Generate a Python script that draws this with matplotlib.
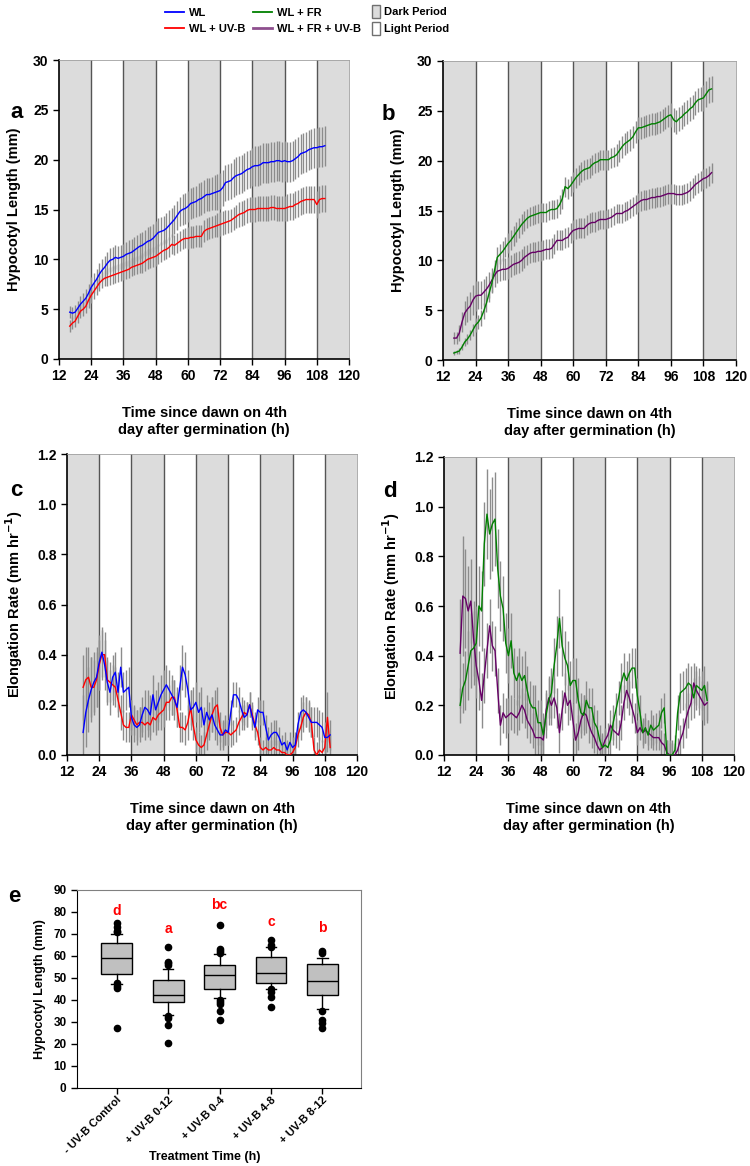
import numpy as np
import matplotlib
matplotlib.use('Agg')
import matplotlib.pyplot as plt
from matplotlib import font_manager
from matplotlib.lines import Line2D
from matplotlib.patches import Patch

plt.rcParams['font.family'] = ['Liberation Sans', 'DejaVu Sans']
plt.rcParams['font.weight'] = 'bold'
plt.rcParams['axes.labelweight'] = 'bold'

# narrow face for the squeezed legend text, if the system has one
try:
    font_manager.findfont('Liberation Sans Narrow', fallback_to_default=False)
    legend_family = ['Liberation Sans Narrow', 'DejaVu Sans']
    legend_size = 10
except Exception:
    legend_family = ['Liberation Sans', 'DejaVu Sans']
    legend_size = 8

# ---------------- data ----------------
# length time points (h) and rate time points (h)
t_len = np.arange(16, 112)
t_rate = np.arange(18, 111)
dark_periods = [12, 36, 60, 84, 108]
x_ticks = [12, 24, 36, 48, 60, 72, 84, 96, 108, 120]

# panel a: hypocotyl length (mm)
wl_len = [4.7, 4.6, 4.7, 5.1, 5.5, 5.8, 6.1, 6.6,
          7.2, 7.6, 8.0, 8.5, 8.9, 9.2, 9.6, 9.9, 10.0, 10.2, 10.1, 10.2,
          10.3, 10.5, 10.6, 10.7, 10.9, 11.1, 11.3, 11.4, 11.6, 11.8, 11.9, 12.1,
          12.4, 12.7, 12.8, 12.9, 13.1, 13.4, 13.7, 14.0, 14.4, 14.8, 15.0, 15.1,
          15.3, 15.6, 15.7, 15.8, 16.0, 16.1, 16.3, 16.5, 16.5, 16.6, 16.7, 16.8,
          16.9, 17.2, 17.7, 17.8, 17.9, 18.2, 18.4, 18.5, 18.6, 18.8, 19.0, 19.1,
          19.3, 19.4, 19.4, 19.5, 19.7, 19.7, 19.7, 19.8, 19.8, 19.9, 19.9, 19.8,
          19.9, 19.8, 19.8, 19.9, 20.1, 20.3, 20.6, 20.7, 20.8, 21.0, 21.1, 21.2,
          21.2, 21.3, 21.3, 21.4]
wl_len_se = [0.6, 0.6, 0.7, 0.7, 0.8, 0.8, 0.9, 0.9,
             1.0, 1.0, 1.0, 1.1, 1.1, 1.1, 1.1, 1.2, 1.2, 1.2, 1.2, 1.2,
             1.2, 1.2, 1.3, 1.3, 1.3, 1.3, 1.3, 1.3, 1.3, 1.4, 1.4, 1.4,
             1.4, 1.4, 1.4, 1.4, 1.5, 1.5, 1.5, 1.5, 1.5, 1.5, 1.6, 1.6,
             1.6, 1.6, 1.6, 1.6, 1.7, 1.7, 1.7, 1.7, 1.7, 1.7, 1.8, 1.8,
             1.8, 1.8, 1.8, 1.8, 1.8, 1.9, 1.9, 1.9, 1.9, 1.9, 1.9, 1.9,
             1.9, 2.0, 2.0, 2.0, 2.0, 2.0, 2.0, 2.0, 2.0, 2.0, 2.0, 2.0,
             2.0, 2.0, 2.0, 2.0, 2.0, 2.0, 2.0, 2.0, 2.0, 2.0, 2.0, 2.0,
             2.0, 2.0, 2.0, 2.0]
uvb_len = [3.3, 3.6, 3.8, 4.3, 4.8, 5.0, 5.3, 5.9,
           6.4, 6.8, 7.2, 7.6, 7.9, 8.1, 8.2, 8.3, 8.4, 8.5, 8.6, 8.7,
           8.8, 8.9, 9.0, 9.2, 9.3, 9.4, 9.5, 9.6, 9.8, 10.0, 10.1, 10.2,
           10.3, 10.5, 10.7, 10.9, 11.0, 11.2, 11.5, 11.4, 11.6, 11.8, 12.0, 12.1,
           12.1, 12.2, 12.2, 12.3, 12.3, 12.3, 12.8, 13.0, 13.1, 13.2, 13.3, 13.4,
           13.5, 13.6, 13.7, 13.8, 13.9, 14.1, 14.3, 14.5, 14.6, 14.7, 14.9, 15.0,
           15.0, 15.0, 15.1, 15.1, 15.1, 15.1, 15.1, 15.2, 15.2, 15.1, 15.1, 15.1,
           15.1, 15.2, 15.3, 15.3, 15.5, 15.6, 15.8, 15.9, 16.0, 16.0, 16.0, 16.0,
           15.5, 16.0, 16.1, 16.1]
uvb_len_se = [0.6, 0.6, 0.6, 0.7, 0.7, 0.7, 0.7, 0.8,
              0.8, 0.8, 0.8, 0.8, 0.8, 0.8, 0.9, 0.9, 0.9, 0.9, 0.9, 0.9,
              0.9, 0.9, 0.9, 0.9, 0.9, 0.9, 0.9, 1.0, 1.0, 1.0, 1.0, 1.0,
              1.0, 1.0, 1.0, 1.0, 1.0, 1.0, 1.0, 1.0, 1.0, 1.0, 1.0, 1.0,
              1.1, 1.1, 1.1, 1.1, 1.1, 1.1, 1.1, 1.1, 1.1, 1.1, 1.1, 1.2,
              1.2, 1.2, 1.2, 1.2, 1.2, 1.2, 1.2, 1.3, 1.3, 1.3, 1.3, 1.3,
              1.3, 1.3, 1.3, 1.3, 1.3, 1.3, 1.3, 1.3, 1.3, 1.3, 1.3, 1.3,
              1.3, 1.4, 1.4, 1.4, 1.4, 1.4, 1.4, 1.4, 1.4, 1.4, 1.4, 1.4,
              1.4, 1.4, 1.4, 1.4]

# panel b: hypocotyl length (mm)
fr_len = [0.7, 0.8, 0.9, 1.3, 1.8, 2.1, 2.5, 3.0,
          3.5, 3.8, 4.2, 4.9, 5.7, 6.7, 7.7, 9.0, 10.3, 10.6, 10.9, 11.3,
          11.7, 12.0, 12.4, 12.8, 13.2, 13.6, 13.9, 14.2, 14.4, 14.5, 14.6, 14.7,
          14.8, 14.8, 14.8, 15.0, 15.1, 15.1, 15.2, 15.6, 16.2, 17.4, 17.2, 17.5,
          17.9, 18.3, 18.6, 18.9, 19.1, 19.2, 19.3, 19.6, 19.8, 19.9, 20.1, 20.1,
          20.1, 20.1, 20.3, 20.4, 20.6, 21.0, 21.4, 21.7, 21.9, 22.1, 22.4, 22.9,
          23.3, 23.3, 23.4, 23.5, 23.6, 23.7, 23.7, 23.8, 23.9, 24.1, 24.3, 24.5,
          24.6, 24.1, 23.9, 24.2, 24.4, 24.7, 24.9, 25.2, 25.4, 25.8, 26.1, 26.2,
          26.3, 26.7, 27.1, 27.2]
fr_len_se = [0.2, 0.2, 0.3, 0.3, 0.4, 0.5, 0.5, 0.6,
             0.7, 0.7, 0.8, 0.8, 0.9, 0.9, 1.0, 1.0, 1.0, 1.0, 1.0, 1.0,
             1.0, 1.0, 1.0, 1.0, 1.0, 1.0, 1.0, 1.0, 1.0, 1.0, 1.0, 1.0,
             1.0, 1.0, 1.0, 1.0, 1.0, 1.0, 1.0, 1.0, 1.0, 1.0, 1.0, 1.0,
             1.0, 1.0, 1.0, 1.0, 1.0, 1.0, 1.0, 1.0, 1.0, 1.0, 1.0, 1.0,
             1.0, 1.0, 1.0, 1.0, 1.1, 1.1, 1.1, 1.1, 1.1, 1.1, 1.1, 1.1,
             1.1, 1.1, 1.1, 1.1, 1.1, 1.1, 1.1, 1.1, 1.1, 1.1, 1.1, 1.1,
             1.2, 1.2, 1.2, 1.2, 1.2, 1.2, 1.2, 1.2, 1.2, 1.2, 1.2, 1.2,
             1.3, 1.3, 1.3, 1.3]
fruvb_len = [2.2, 2.2, 2.7, 3.8, 4.7, 5.1, 5.4, 6.0,
             6.4, 6.5, 6.5, 6.8, 7.1, 7.5, 8.0, 8.5, 8.9, 9.0, 9.1, 9.1,
             9.2, 9.4, 9.6, 9.7, 9.8, 10.0, 10.3, 10.5, 10.7, 10.8, 10.8, 10.9,
             10.9, 11.0, 11.1, 11.1, 11.2, 11.6, 12.0, 12.0, 12.0, 12.2, 12.3, 12.7,
             13.0, 13.1, 13.2, 13.2, 13.2, 13.5, 13.7, 13.8, 13.8, 14.0, 14.1, 14.1,
             14.1, 14.2, 14.3, 14.5, 14.7, 14.7, 14.7, 14.9, 15.0, 15.2, 15.4, 15.6,
             15.8, 16.0, 16.1, 16.1, 16.2, 16.3, 16.3, 16.4, 16.4, 16.5, 16.6, 16.7,
             16.7, 16.7, 16.6, 16.6, 16.6, 16.7, 16.8, 17.0, 17.3, 17.6, 17.8, 18.0,
             18.2, 18.3, 18.5, 18.8]
fruvb_len_se = [0.6, 0.6, 0.8, 1.0, 1.2, 1.3, 1.4, 1.5,
                1.5, 1.4, 1.4, 1.3, 1.3, 1.3, 1.2, 1.2, 1.2, 1.1, 1.1, 1.1,
                1.1, 1.1, 1.1, 1.1, 1.1, 1.1, 1.1, 1.0, 1.0, 1.0, 1.0, 1.0,
                1.0, 1.0, 1.0, 1.0, 1.0, 1.0, 1.0, 1.0, 1.0, 1.0, 1.0, 1.0,
                1.0, 1.0, 1.0, 1.0, 1.0, 1.0, 1.0, 1.0, 1.0, 1.0, 1.0, 1.0,
                1.0, 1.0, 1.0, 1.0, 1.0, 1.0, 1.0, 1.0, 1.0, 1.0, 1.0, 1.0,
                1.0, 1.0, 1.0, 1.0, 1.0, 1.0, 1.0, 1.0, 1.0, 1.0, 1.0, 1.0,
                1.0, 1.0, 1.0, 1.0, 1.0, 1.0, 1.0, 1.0, 1.0, 1.0, 1.0, 1.0,
                1.0, 1.0, 1.0, 1.0]

# panel c: elongation rate (mm/h)
wl_rate = [0.09, 0.17, 0.22, 0.26, 0.29, 0.31,
           0.37, 0.41, 0.36, 0.29, 0.25, 0.31, 0.33, 0.25, 0.35, 0.25, 0.26, 0.27,
           0.15, 0.12, 0.11, 0.12, 0.16, 0.19, 0.18, 0.16, 0.24, 0.18, 0.21, 0.24,
           0.26, 0.28, 0.26, 0.24, 0.22, 0.19, 0.27, 0.35, 0.32, 0.26, 0.18, 0.19,
           0.21, 0.17, 0.19, 0.12, 0.17, 0.14, 0.16, 0.12, 0.10, 0.08, 0.08, 0.10,
           0.09, 0.17, 0.24, 0.24, 0.22, 0.18, 0.15, 0.16, 0.20, 0.15, 0.11, 0.18,
           0.17, 0.17, 0.11, 0.06, 0.08, 0.09, 0.09, 0.07, 0.04, 0.05, 0.02, 0.05,
           0.03, 0.04, 0.12, 0.17, 0.18, 0.17, 0.15, 0.13, 0.13, 0.13, 0.12, 0.11,
           0.07, 0.07, 0.08]
wl_rate_se = [0.15, 0.14, 0.13, 0.13, 0.12, 0.12,
              0.11, 0.10, 0.10, 0.09, 0.09, 0.09, 0.08, 0.08, 0.08, 0.08, 0.08, 0.08,
              0.07, 0.07, 0.07, 0.07, 0.07, 0.07, 0.08, 0.08, 0.08, 0.08, 0.08, 0.08,
              0.08, 0.08, 0.08, 0.08, 0.08, 0.08, 0.09, 0.09, 0.09, 0.08, 0.08, 0.08,
              0.08, 0.08, 0.08, 0.07, 0.07, 0.07, 0.07, 0.06, 0.06, 0.06, 0.06, 0.06,
              0.05, 0.05, 0.05, 0.05, 0.05, 0.05, 0.05, 0.05, 0.05, 0.05, 0.05, 0.05,
              0.05, 0.05, 0.05, 0.05, 0.05, 0.05, 0.05, 0.04, 0.04, 0.04, 0.04, 0.04,
              0.04, 0.05, 0.05, 0.06, 0.06, 0.06, 0.06, 0.06, 0.06, 0.06, 0.06, 0.06,
              0.06, 0.06, 0.06]
uvb_rate = [0.27, 0.30, 0.31, 0.27, 0.27, 0.30,
            0.36, 0.40, 0.40, 0.30, 0.29, 0.28, 0.27, 0.22, 0.17, 0.12, 0.11, 0.11,
            0.16, 0.14, 0.12, 0.13, 0.13, 0.12, 0.13, 0.12, 0.15, 0.14, 0.16, 0.17,
            0.18, 0.21, 0.21, 0.23, 0.23, 0.18, 0.11, 0.11, 0.10, 0.13, 0.19, 0.12,
            0.06, 0.04, 0.03, 0.04, 0.08, 0.12, 0.16, 0.19, 0.20, 0.11, 0.08, 0.09,
            0.09, 0.08, 0.09, 0.10, 0.13, 0.15, 0.17, 0.16, 0.20, 0.16, 0.12, 0.09,
            0.03, 0.02, 0.03, 0.02, 0.02, 0.03, 0.02, 0.02, 0.01, 0.01, 0.00, 0.00,
            0.01, 0.03, 0.08, 0.11, 0.15, 0.17, 0.16, 0.13, 0.02, 0.00, 0.02, 0.01,
            0.03, 0.15, 0.03]
uvb_rate_se = [0.13, 0.13, 0.12, 0.12, 0.11, 0.11,
               0.10, 0.10, 0.09, 0.09, 0.08, 0.08, 0.08, 0.07, 0.07, 0.06, 0.06, 0.06,
               0.06, 0.06, 0.06, 0.06, 0.06, 0.06, 0.06, 0.06, 0.06, 0.06, 0.06, 0.07,
               0.07, 0.07, 0.07, 0.07, 0.07, 0.07, 0.06, 0.06, 0.06, 0.07, 0.07, 0.06,
               0.05, 0.05, 0.05, 0.05, 0.06, 0.06, 0.07, 0.07, 0.07, 0.06, 0.05, 0.05,
               0.05, 0.05, 0.05, 0.05, 0.05, 0.05, 0.05, 0.05, 0.05, 0.05, 0.05, 0.05,
               0.04, 0.04, 0.04, 0.04, 0.04, 0.04, 0.04, 0.04, 0.04, 0.04, 0.04, 0.04,
               0.04, 0.04, 0.05, 0.05, 0.06, 0.06, 0.06, 0.06, 0.05, 0.05, 0.05, 0.05,
               0.05, 0.10, 0.05]

# panel d: elongation rate (mm/h)
fr_rate = [0.20, 0.27, 0.30, 0.36, 0.42, 0.43,
           0.45, 0.60, 0.58, 0.85, 0.97, 0.89, 0.93, 0.95, 0.75, 0.64, 0.59, 0.45,
           0.40, 0.46, 0.33, 0.30, 0.33, 0.30, 0.32, 0.26, 0.21, 0.19, 0.19, 0.13,
           0.13, 0.08, 0.16, 0.22, 0.25, 0.36, 0.44, 0.55, 0.44, 0.39, 0.36, 0.28,
           0.30, 0.30, 0.22, 0.17, 0.16, 0.22, 0.19, 0.19, 0.13, 0.11, 0.06, 0.03,
           0.04, 0.03, 0.06, 0.13, 0.18, 0.23, 0.29, 0.33, 0.30, 0.33, 0.35, 0.35,
           0.24, 0.17, 0.09, 0.11, 0.08, 0.12, 0.10, 0.11, 0.12, 0.17, 0.19, 0.00,
           0.00, 0.00, 0.02, 0.17, 0.25, 0.26, 0.27, 0.29, 0.28, 0.23, 0.28, 0.27,
           0.26, 0.28, 0.22]
fr_rate_se = [0.07, 0.10, 0.12, 0.14, 0.15, 0.15,
              0.15, 0.16, 0.16, 0.17, 0.18, 0.18, 0.19, 0.19, 0.16, 0.14, 0.13, 0.12,
              0.11, 0.11, 0.10, 0.10, 0.10, 0.10, 0.10, 0.10, 0.09, 0.09, 0.09, 0.09,
              0.09, 0.09, 0.09, 0.10, 0.10, 0.11, 0.12, 0.12, 0.12, 0.11, 0.10, 0.10,
              0.09, 0.09, 0.09, 0.08, 0.08, 0.08, 0.08, 0.08, 0.07, 0.07, 0.06, 0.06,
              0.06, 0.06, 0.06, 0.07, 0.07, 0.07, 0.08, 0.08, 0.08, 0.08, 0.08, 0.08,
              0.07, 0.07, 0.06, 0.06, 0.06, 0.06, 0.06, 0.06, 0.06, 0.06, 0.06, 0.06,
              0.06, 0.06, 0.06, 0.07, 0.08, 0.08, 0.08, 0.08, 0.08, 0.08, 0.08, 0.08,
              0.08, 0.08, 0.08]
fruvb_rate = [0.41, 0.64, 0.63, 0.58, 0.62, 0.47,
              0.36, 0.30, 0.22, 0.32, 0.42, 0.52, 0.44, 0.42, 0.26, 0.12, 0.17, 0.15,
              0.16, 0.17, 0.16, 0.15, 0.17, 0.20, 0.18, 0.14, 0.12, 0.10, 0.07, 0.07,
              0.07, 0.06, 0.18, 0.23, 0.20, 0.23, 0.19, 0.09, 0.18, 0.25, 0.20, 0.22,
              0.14, 0.06, 0.09, 0.14, 0.17, 0.16, 0.12, 0.09, 0.07, 0.04, 0.02, 0.03,
              0.06, 0.08, 0.12, 0.10, 0.09, 0.08, 0.13, 0.21, 0.26, 0.23, 0.19, 0.15,
              0.09, 0.11, 0.09, 0.10, 0.09, 0.08, 0.07, 0.07, 0.07, 0.05, 0.04, 0.01,
              0.00, 0.00, 0.00, 0.02, 0.06, 0.09, 0.14, 0.18, 0.21, 0.29, 0.26, 0.24,
              0.22, 0.20, 0.21]
fruvb_rate_se = [0.22, 0.24, 0.20, 0.18, 0.17, 0.15,
                 0.13, 0.12, 0.11, 0.11, 0.11, 0.11, 0.10, 0.10, 0.09, 0.08, 0.08, 0.08,
                 0.07, 0.07, 0.07, 0.07, 0.07, 0.07, 0.07, 0.07, 0.07, 0.07, 0.07, 0.07,
                 0.07, 0.07, 0.08, 0.08, 0.08, 0.08, 0.08, 0.08, 0.08, 0.08, 0.08, 0.08,
                 0.07, 0.07, 0.07, 0.07, 0.07, 0.07, 0.07, 0.06, 0.06, 0.06, 0.05, 0.05,
                 0.05, 0.05, 0.06, 0.06, 0.06, 0.06, 0.07, 0.07, 0.07, 0.07, 0.06, 0.06,
                 0.05, 0.05, 0.05, 0.05, 0.05, 0.05, 0.05, 0.05, 0.05, 0.05, 0.05, 0.05,
                 0.05, 0.05, 0.05, 0.05, 0.06, 0.06, 0.07, 0.07, 0.07, 0.08, 0.08, 0.08,
                 0.08, 0.08, 0.08]

# panel e: box plot summary (mm)
treatments = ['- UV-B Control', '+ UV-B 0-12', '+ UV-B 0-4', '+ UV-B 4-8', '+ UV-B 8-12']
box_q1 = [51.8, 38.9, 44.8, 47.8, 42.5]
box_med = [59.3, 42.5, 51.3, 52.5, 48.6]
box_q3 = [65.7, 49.3, 56.0, 59.6, 56.3]
whisker_lo = [47.5, 33.4, 41.1, 44.8, 35.7]
whisker_hi = [70.2, 54.0, 61.0, 63.9, 59.3]
outliers = [[74.8, 73.3, 71.5, 70.7, 47.8, 46.3, 45.4, 27.4],
            [64.0, 57.4, 56.6, 55.8, 32.6, 31.6, 28.8, 20.6],
            [74.2, 63.4, 62.4, 61.2, 40.2, 39.2, 38.1, 35.1, 31.0],
            [67.2, 65.0, 64.2, 45.2, 43.7, 41.4, 36.6],
            [62.4, 61.5, 34.9, 30.8, 29.6, 27.3]]
sig_letters = ['d', 'a', 'bc', 'c', 'b']
letter_y = [80.6, 72.2, 83.2, 75.4, 72.8]

# ---------------- plotting ----------------
W, H = 750, 1166
fig = plt.figure(figsize=(W / 100, H / 100), dpi=100)


def rect(l, t, r, b):
    return [l / W, 1 - b / H, (r - l) / W, (b - t) / H]


BAR = '#8c8c8c'
XLAB = 'Time since dawn on 4th\nday after germination (h)'


def time_panel(ax, series, ylim, yticks, ylabel, fmt):
    for s in dark_periods:
        ax.axvspan(s, s + 12, color='#dcdcdc', lw=0, zorder=0)
    for x in x_ticks[1:-1]:
        ax.axvline(x, color='#555555', lw=1, zorder=1)
    for t, y, e, c in series:
        ax.errorbar(t, y, yerr=e, fmt='none', ecolor=BAR, elinewidth=1,
                    capsize=0, zorder=2)
    for t, y, e, c in series:
        ax.plot(t, y, color=c, lw=1, zorder=3)
    ax.set_xlim(12, 120)
    ax.set_ylim(*ylim)
    ax.set_xticks(x_ticks)
    ax.set_yticks(yticks)
    ax.set_yticklabels([fmt.format(v) for v in yticks])
    ax.tick_params(direction='out', length=4, width=1, labelsize=10)
    for sp in ['top', 'right']:
        ax.spines[sp].set_color('#a0a0a0')
        ax.spines[sp].set_linewidth(0.6)
    ax.spines['left'].set_linewidth(1.2)
    ax.spines['bottom'].set_linewidth(1.2)
    ax.set_ylabel(ylabel, fontsize=10.5, labelpad=9)
    ax.set_xlabel(XLAB, fontsize=10.5, labelpad=16, linespacing=1.3)


ax_a = fig.add_axes(rect(59, 60, 349, 359))
time_panel(ax_a, [(t_len, uvb_len, uvb_len_se, '#ff0000'),
                  (t_len, wl_len, wl_len_se, '#0000ff')],
           (0, 30), [0, 5, 10, 15, 20, 25, 30], 'Hypocotyl Length (mm)', '{:g}')

ax_b = fig.add_axes(rect(443, 61, 736, 360))
time_panel(ax_b, [(t_len, fruvb_len, fruvb_len_se, '#660066'),
                  (t_len, fr_len, fr_len_se, '#008000')],
           (0, 30), [0, 5, 10, 15, 20, 25, 30], 'Hypocotyl Length (mm)', '{:g}')

rate_ticks = [0.0, 0.2, 0.4, 0.6, 0.8, 1.0, 1.2]
rate_label = r'Elongation Rate (mm hr$^{\mathbf{-1}}$)'
ax_c = fig.add_axes(rect(67, 454, 357, 755))
time_panel(ax_c, [(t_rate, uvb_rate, uvb_rate_se, '#ff0000'),
                  (t_rate, wl_rate, wl_rate_se, '#0000ff')],
           (0, 1.2), rate_ticks, rate_label, '{:.1f}')

ax_d = fig.add_axes(rect(444, 457, 734, 755))
time_panel(ax_d, [(t_rate, fruvb_rate, fruvb_rate_se, '#660066'),
                  (t_rate, fr_rate, fr_rate_se, '#008000')],
           (0, 1.2), rate_ticks, rate_label, '{:.1f}')

# box plot panel
ax_e = fig.add_axes(rect(77, 890, 361, 1088))
stats = []
for i in range(len(treatments)):
    stats.append(dict(med=box_med[i], q1=box_q1[i], q3=box_q3[i],
                      whislo=whisker_lo[i], whishi=whisker_hi[i],
                      fliers=outliers[i], label=treatments[i]))
pos = np.arange(1, len(treatments) + 1)
ax_e.bxp(stats, positions=pos, widths=0.6, patch_artist=True, capwidths=0.2,
         boxprops=dict(facecolor='#c0c0c0', edgecolor='black', lw=1),
         medianprops=dict(color='black', lw=1),
         whiskerprops=dict(color='black', lw=1),
         capprops=dict(color='black', lw=1),
         flierprops=dict(marker='o', markerfacecolor='black',
                         markeredgecolor='black', markersize=4.5))
for p, s, y in zip(pos, sig_letters, letter_y):
    ax_e.text(p, y, s, color='#ff0000', ha='center', va='center',
              fontsize=10, fontweight='bold')
ax_e.set_xlim(0.23, 5.75)
ax_e.set_ylim(0, 90)
ax_e.set_yticks(range(0, 91, 10))
ax_e.set_xticks(pos)
ax_e.set_xticklabels(treatments, rotation=45, ha='right', rotation_mode='anchor')
ax_e.tick_params(direction='out', length=4, width=1, labelsize=8.5)
ax_e.tick_params(axis='x', pad=1, labelsize=8)
for sp in ['top', 'right']:
    ax_e.spines[sp].set_color('#808080')
    ax_e.spines[sp].set_linewidth(0.8)
ax_e.set_ylabel('Hypocotyl Length (mm)', fontsize=9, labelpad=5)
fig.text(205 / W, 1 - 1157 / H, 'Treatment Time (h)', ha='center', va='center',
         fontsize=9, fontweight='bold')

# panel letters
for x, y, s in [(10, 118, 'a'), (382, 120, 'b'), (10, 496, 'c'),
                (383, 497, 'd'), (8, 902, 'e')]:
    fig.text(x / W, 1 - y / H, s, fontsize=16, fontweight='bold')

# legends: three columns placed separately
leg_kw = dict(loc='upper left', frameon=False, borderpad=0, borderaxespad=0,
              prop=dict(family=legend_family, weight='bold', size=legend_size))
col1 = [Line2D([], [], color='#0000ff', lw=1.3, label='WL'),
        Line2D([], [], color='#ff0000', lw=1.3, label='WL + UV-B')]
col2 = [Line2D([], [], color='#008000', lw=1.3, label='WL + FR'),
        Line2D([], [], color='#8e4f8e', lw=2, label='WL + FR + UV-B')]
col3 = [Patch(facecolor='#dcdcdc', edgecolor='#707070', label='Dark Period'),
        Patch(facecolor='white', edgecolor='#707070', label='Light Period')]
fig.legend(handles=col1, bbox_to_anchor=(165 / W, 1 - 8 / H),
           handlelength=1.7, handletextpad=0.45, labelspacing=0.5, **leg_kw)
fig.legend(handles=col2, bbox_to_anchor=(253 / W, 1 - 8 / H),
           handlelength=1.7, handletextpad=0.45, labelspacing=0.5, **leg_kw)
fig.legend(handles=col3, bbox_to_anchor=(372 / W, 1 - 5 / H),
           handlelength=0.75, handleheight=1.4, handletextpad=0.3,
           labelspacing=0.35, **leg_kw)

fig.savefig('out.png', dpi=100)
